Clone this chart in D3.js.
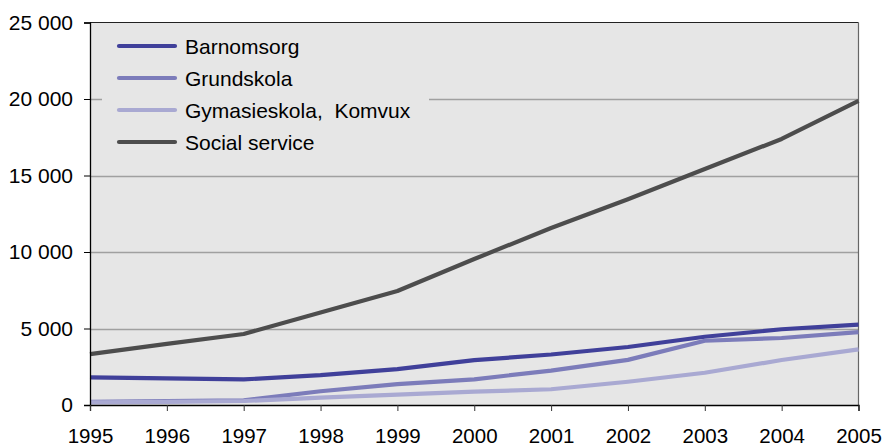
<!DOCTYPE html>
<html><head><meta charset="utf-8">
<script src="https://cdn.jsdelivr.net/npm/d3@7"></script>
<style>body{margin:0;background:#fff;} text{font-family:"Liberation Sans",Arial,sans-serif;}</style>
</head><body><svg id="c" width="883" height="443"></svg>
<script>
const years = [1995,1996,1997,1998,1999,2000,2001,2002,2003,2004,2005];
const barnomsorg = [1800,1740,1670,1950,2350,2930,3300,3790,4460,4950,5250];
const grundskola = [200,250,300,900,1370,1680,2250,2950,4200,4380,4760];
const gymnasieskola = [170,210,260,480,680,870,1030,1520,2110,2940,3640];
const socialService = [3320,3990,4640,6050,7450,9540,11570,13450,15420,17390,19870];
const seriesNames = ["Barnomsorg","Grundskola","Gymasieskola,  Komvux","Social service"];
const yTicks = [0,5000,10000,15000,20000,25000];

const colors = ["#40409a","#7c7cba","#a9a9d2","#4d4d4d"];
const seriesData = [barnomsorg, grundskola, gymnasieskola, socialService];
const FS = 21;

const svg = d3.select("#c");
const L=90,R=858.5,T=22.5,B=405;
const x = d3.scaleLinear().domain([1995,2005]).range([L,R]);
const y = d3.scaleLinear().domain([0,25000]).range([B,T]);

svg.append("rect").attr("x",L).attr("y",T).attr("width",R-L).attr("height",B-T).attr("fill","#e6e6e6");
// gridlines
svg.append("g").selectAll("line").data(yTicks.filter(d=>d>0&&d<25000)).join("line")
  .attr("x1",L).attr("x2",R).attr("y1",d=>Math.round(y(d))+0.5).attr("y2",d=>Math.round(y(d))+0.5)
  .attr("stroke","#a0a0a0").attr("stroke-width",1.5);
// border top/right
svg.append("line").attr("x1",L).attr("x2",R).attr("y1",T).attr("y2",T).attr("stroke","#222").attr("stroke-width",1.2);
svg.append("line").attr("x1",R).attr("x2",R).attr("y1",T).attr("y2",B).attr("stroke","#666").attr("stroke-width",1.2);

// legend box (covers gridlines)
svg.append("rect").attr("x",102).attr("y",30).attr("width",327).attr("height",133).attr("fill","#e6e6e6");

// lines
const line = d3.line().x((d,i)=>x(years[i])).y(d=>y(d));
seriesData.forEach((s,k)=>{
  svg.append("path").datum(s).attr("d",line).attr("fill","none")
    .attr("stroke",colors[k]).attr("stroke-width",4.2).attr("stroke-linejoin","round");
});

// axes
const yAxis = d3.axisLeft(y).tickValues(yTicks).tickSize(6).tickFormat(d=>d3.format(",")(d).replace(/,/g," "));
const gy = svg.append("g").attr("transform",`translate(${L},0)`).call(yAxis);
gy.select(".domain").attr("stroke","#000").attr("stroke-width",1.3);
gy.selectAll(".tick line").attr("stroke","#000");
gy.selectAll("text").style("font-size",FS+"px").attr("fill","#000").attr("x",-17).style("font-family","Liberation Sans, Arial, sans-serif");

const xAxis = d3.axisBottom(x).tickValues(years).tickSize(6).tickFormat(d3.format("d"));
const gx = svg.append("g").attr("transform",`translate(0,${B})`).call(xAxis);
gx.select(".domain").attr("stroke","#000").attr("stroke-width",1.3);
gx.selectAll(".tick line").attr("stroke","#333");
gx.selectAll("text").style("font-size","20.5px").attr("fill","#000").attr("y",23).style("font-family","Liberation Sans, Arial, sans-serif");

// legend
const lg = svg.append("g");
seriesNames.forEach((n,k)=>{
  const yy = 46 + k*32;
  lg.append("line").attr("x1",119).attr("x2",175).attr("y1",yy).attr("y2",yy)
    .attr("stroke",colors[k]).attr("stroke-width",4.2).attr("stroke-linecap","round");
  lg.append("text").attr("x",185).attr("y",yy+8).style("font-size",FS+"px").attr("fill","#000")
    .style("white-space","pre").text(n);
});
</script></body></html>
